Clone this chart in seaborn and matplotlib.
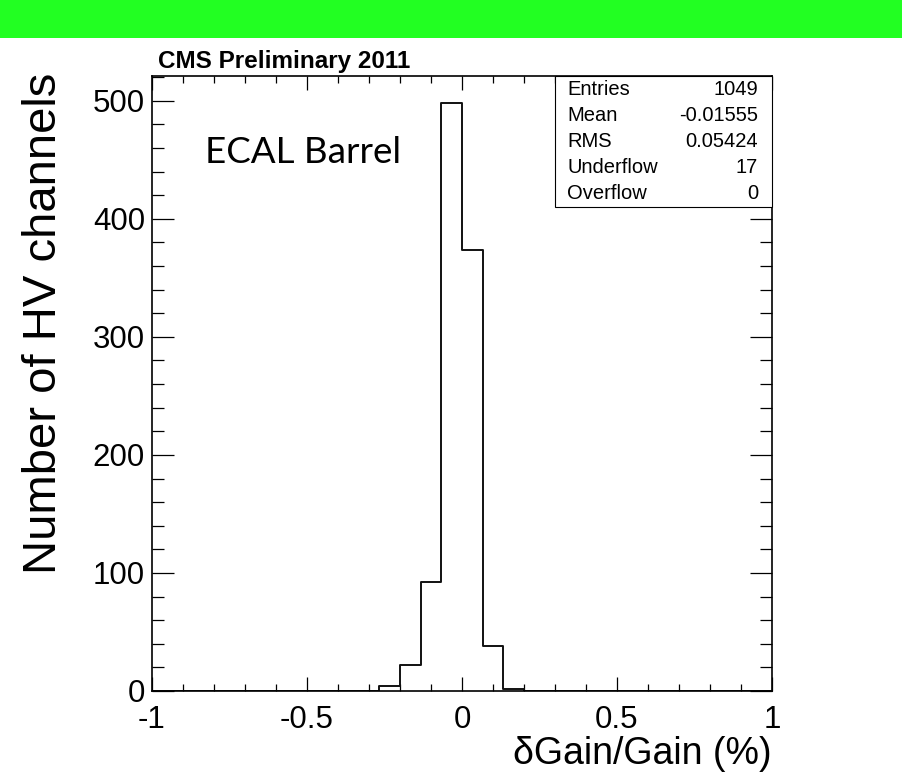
import numpy as np
import seaborn as sns
import matplotlib
matplotlib.use("Agg")
import matplotlib.pyplot as plt
from matplotlib.patches import Rectangle
from matplotlib.ticker import MultipleLocator

# Histogram of relative gain change per HV channel: 30 bins on [-1, 1]
x_min, x_max, n_bins = -1.0, 1.0, 30
counts = [0, 0, 0, 0, 0, 0, 0, 0, 0, 0,
          0, 4, 22, 92, 498, 374, 38, 2, 0, 0,
          0, 0, 0, 0, 0, 0, 0, 0, 0, 0]

x_ticks = [-1, -0.5, 0, 0.5, 1]
x_tick_labels = ["-1", "-0.5", "0", "0.5", "1"]
y_ticks = [0, 100, 200, 300, 400, 500]
y_tick_labels = ["0", "100", "200", "300", "400", "500"]

stat_names = ["Entries", "Mean", "RMS", "Underflow", "Overflow"]
stat_values = ["1049", "-0.01555", "0.05424", "17", "0"]

sns.set_style("ticks")
plt.rcParams["font.family"] = ["Liberation Sans", "DejaVu Sans"]
plt.rcParams["text.color"] = "black"
plt.rcParams["axes.labelcolor"] = "black"
plt.rcParams["xtick.color"] = "black"
plt.rcParams["ytick.color"] = "black"
plt.rcParams["xtick.labelcolor"] = "black"
plt.rcParams["ytick.labelcolor"] = "black"

fig = plt.figure(figsize=(9.03, 7.73), dpi=100)

# green banner across the top
fig.add_artist(Rectangle((0, 0.9508), 1, 0.0492, transform=fig.transFigure,
                         facecolor="#22ff22", edgecolor="none"))

ax = fig.add_axes([0.1683, 0.1061, 0.6866, 0.7956])

edges = np.linspace(x_min, x_max, n_bins + 1)
centers = 0.5 * (edges[:-1] + edges[1:])
sns.histplot(x=centers, weights=counts, bins=n_bins, binrange=(x_min, x_max),
             element="step", fill=False, color="#111111", linewidth=1.4, ax=ax)

ax.set_xlim(x_min, x_max)
ax.set_ylim(0, 521)

ax.set_xticks(x_ticks, x_tick_labels)
ax.set_yticks(y_ticks, y_tick_labels)
ax.xaxis.set_minor_locator(MultipleLocator(0.1))
ax.yaxis.set_minor_locator(MultipleLocator(20))
ax.tick_params(which="both", direction="in", top=True, right=True,
               width=0.9, color="black")
ax.tick_params(axis="x", which="major", length=10, pad=10, labelsize=22.5)
ax.tick_params(axis="x", which="minor", length=4.7)
ax.tick_params(axis="y", which="major", length=15.8, pad=5, labelsize=22.5)
ax.tick_params(axis="y", which="minor", length=8.6)
for sp in ax.spines.values():
    sp.set_linewidth(1.2)
    sp.set_color("black")

ax.set_xlabel("\u03b4Gain/Gain (%)", fontsize=27, loc="right")
ax.xaxis.set_label_coords(1.0, -0.073)
ax.set_ylabel("Number of HV channels", fontsize=34, loc="top")
ax.yaxis.set_label_coords(-0.138, 1.005)

ax.text(0.0097, 1.013, "CMS Preliminary 2011", transform=ax.transAxes,
        fontsize=17.5, fontweight="bold", ha="left", va="baseline")
ax.text(0.0855, 0.8585, "ECAL Barrel", transform=ax.transAxes,
        fontsize=26.5, family=["Lato", "DejaVu Sans"], ha="left", va="baseline")

# statistics box in the upper right corner
box_left, box_bottom = 0.65, 0.787
ax.add_patch(Rectangle((box_left, box_bottom), 1 - box_left, 1 - box_bottom,
                       transform=ax.transAxes, facecolor="white",
                       edgecolor="black", linewidth=0.8, zorder=3, clip_on=False))
row_h = (1 - box_bottom) / len(stat_names)
for i, (name, val) in enumerate(zip(stat_names, stat_values)):
    yy = 1 - row_h * (i + 0.5)
    ax.text(0.6694, yy, name, transform=ax.transAxes, fontsize=14.5,
            ha="left", va="center", zorder=4)
    ax.text(0.9774, yy, val, transform=ax.transAxes, fontsize=14.5,
            ha="right", va="center", zorder=4)

fig.savefig("out.png", dpi=100)
